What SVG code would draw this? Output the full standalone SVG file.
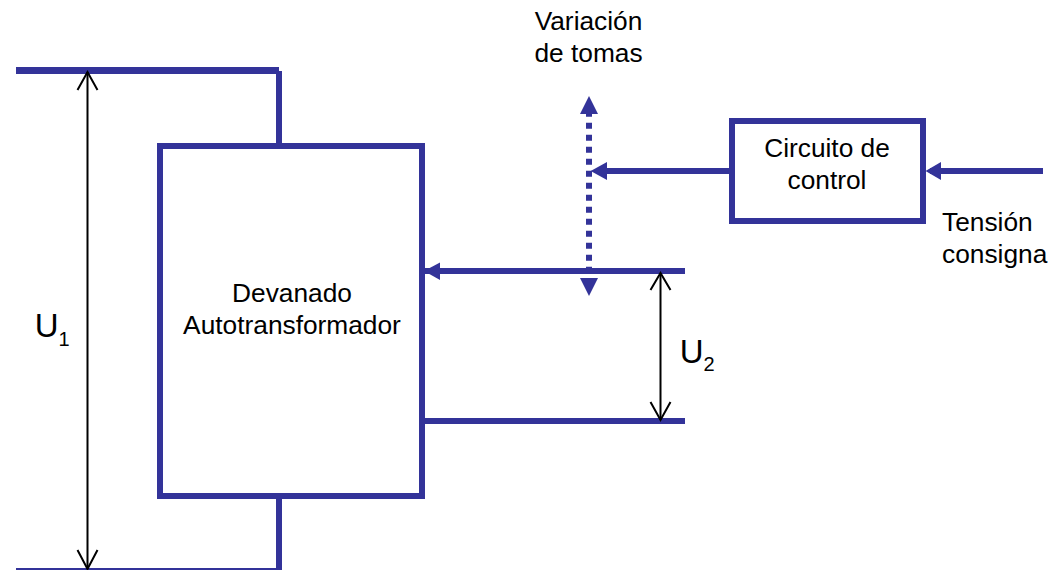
<svg xmlns="http://www.w3.org/2000/svg" width="1052" height="570" viewBox="0 0 1052 570">
<style>
.w{fill:none;stroke:#333399;stroke-width:6}
.h{fill:#333399;stroke:none}
.b{fill:#fff;stroke:#333399;stroke-width:6}
.k{fill:none;stroke:#000;stroke-width:2}
text{font-family:"Liberation Sans",Arial,sans-serif;font-size:26.300px;fill:#000}
.m{text-anchor:middle}
.u{font-size:33px}
.s{font-size:20px}
</style>
<rect width="1052" height="570" fill="#fff"/>
<g id="connectors">
<path class="w" style="stroke-width:7" d="M16 70.500H279"/>
<path class="w" d="M279 71V146"/>
<path class="w" d="M279 496V570"/>
<path class="w" style="stroke-width:5" d="M16 570.500H279"/>
<path class="w" d="M424 271H685"/>
<path class="w" d="M424 421H685"/>
<path class="w" stroke-dasharray="6 6" d="M589 110.700V272.700"/>
<polygon class="h" points="589,96 598,114 580,114"/>
<polygon class="h" points="589,296 598,278 580,278"/>
<path class="w" d="M732 171H600"/>
<polygon class="h" points="590.700,171 607,162 607,180"/>
<polygon class="h" points="424,271 440,262.500 440,280"/>
<path class="w" d="M1043 171H930"/>
<polygon class="h" points="925.500,171 941,162 941,180"/>
<path class="k" d="M87.500 72V569"/>
<path class="k" d="M77.500 90L87.500 72L97.500 90M77.500 550L87.500 569L97.500 550"/>
<path class="k" d="M660.500 273V420"/>
<path class="k" d="M650.500 290L660.500 273L670.500 290M650.500 402L660.500 420L670.500 402"/>
</g>
<g id="devanado">
<rect class="b" x="160" y="146" width="262" height="350"/>
<text class="m" x="292" y="301.500">Devanado</text>
<text class="m" x="292" y="333.500">Autotransformador</text>
</g>
<g id="control">
<rect class="b" x="732" y="121" width="191" height="100"/>
<text class="m" x="827" y="156.500">Circuito de</text>
<text class="m" x="827" y="189">control</text>
</g>
<g id="labels">
<text class="m" x="588.500" y="30">Variación</text>
<text class="m" x="588.500" y="62">de tomas</text>
<text x="942" y="231">Tensión</text>
<text x="942" y="263">consigna</text>
<text class="u" x="34.700" y="337.300">U<tspan class="s" dy="8.400">1</tspan></text>
<text class="u" x="679.700" y="362.700">U<tspan class="s" dy="8">2</tspan></text>
</g>
</svg>
